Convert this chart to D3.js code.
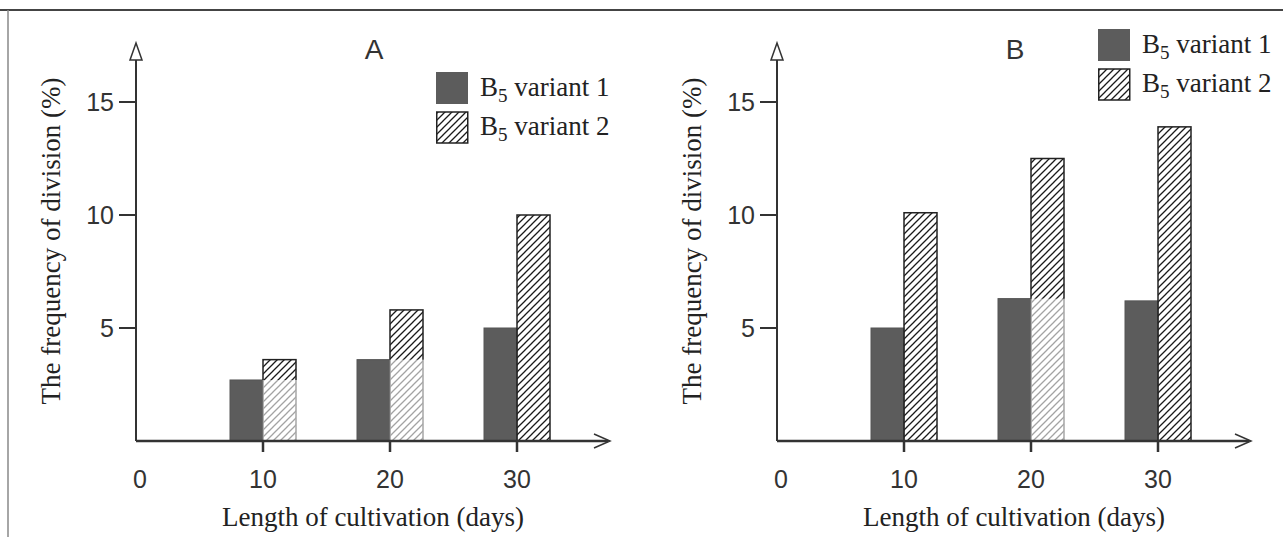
<!DOCTYPE html>
<html>
<head>
<meta charset="utf-8">
<script src="https://cdn.jsdelivr.net/npm/d3@7"></script>
<style>
  body { margin: 0; background: #fff; }
  svg { display: block; }
  .tick-num { font-family: "Liberation Sans", Arial, sans-serif; fill: #333; }
  .serif { font-family: "Liberation Serif", "Times New Roman", serif; fill: #222; }
</style>
</head>
<body>
<svg width="1283" height="537"></svg>
<script>
// data
const days = [10, 20, 30];
const xTickLabels = [0, 10, 20, 30];
const yTickLabels = [5, 10, 15];
const seriesLabels = ["variant 1", "variant 2"];
const panelTitles = ["A", "B"];
const variant1A = [2.7, 3.6, 5.0];
const variant2A = [3.6, 5.8, 10.0];
const variant1B = [5.0, 6.3, 6.2];
const variant2B = [10.1, 12.5, 13.9];
// groups where the scan washed out the lower hatching
const fadedA = [10, 20];
const fadedB = [20];

const svg = d3.select("svg");

const defs = svg.append("defs");
defs.append("pattern")
    .attr("id", "hatch")
    .attr("patternUnits", "userSpaceOnUse")
    .attr("width", 7)
    .attr("height", 7)
  .append("path")
    .attr("d", "M-1,8 L8,-1 M-2,2 L2,-2 M5,9 L9,5")
    .attr("stroke", "#1a1a1a")
    .attr("stroke-width", 1.3)
    .attr("stroke-linecap", "butt");

// scanned page frame
svg.append("line").attr("x1", 0).attr("x2", 1283).attr("y1", 10).attr("y2", 10)
    .attr("stroke", "#444").attr("stroke-width", 2);
svg.append("line").attr("x1", 8).attr("x2", 8).attr("y1", 10).attr("y2", 537)
    .attr("stroke", "#888").attr("stroke-width", 1.5);

const x = d3.scaleLinear().domain([0, 30]).range([136, 517]);
const y = d3.scaleLinear().domain([0, 15]).range([441, 102]);
const barW = 33;

const panels = [
    { title: panelTitles[0], v1: variant1A, v2: variant2A, faded: fadedA, dx: 0, legend: [436, 72] },
    { title: panelTitles[1], v1: variant1B, v2: variant2B, faded: fadedB, dx: 641, legend: [457, 29] }
];

panels.forEach(p => {
    const g = svg.append("g").attr("transform", `translate(${p.dx}, 0)`);

    // bars
    const rows = days.map((d, i) => ({ day: d, v1: p.v1[i], v2: p.v2[i] }));
    g.selectAll(".bar1").data(rows).enter().append("rect")
        .attr("x", d => x(d.day) - barW)
        .attr("y", d => y(d.v1))
        .attr("width", barW)
        .attr("height", d => y(0) - y(d.v1))
        .attr("fill", "#5c5c5c")
        .attr("stroke", "#545454")
        .attr("stroke-width", 1);
    g.selectAll(".bar2").data(rows).enter().append("rect")
        .attr("x", d => x(d.day))
        .attr("y", d => y(d.v2))
        .attr("width", barW)
        .attr("height", d => y(0) - y(d.v2))
        .attr("fill", "url(#hatch)")
        .attr("stroke", "#222")
        .attr("stroke-width", 1.5);
    g.selectAll(".fade").data(rows.filter(d => p.faded.includes(d.day))).enter().append("rect")
        .attr("x", d => x(d.day) - 0.5)
        .attr("y", d => y(d.v1))
        .attr("width", barW + 1.5)
        .attr("height", d => y(0) - y(d.v1))
        .attr("fill", "#fff")
        .attr("opacity", 0.6);

    // y axis with arrow
    g.append("line").attr("x1", x(0)).attr("x2", x(0)).attr("y1", y(0)).attr("y2", 46)
        .attr("stroke", "#333").attr("stroke-width", 2);
    g.append("path")
        .attr("d", `M${x(0) - 6},60 L${x(0)},43 L${x(0) + 6},60 Z`)
        .attr("fill", "#fff").attr("stroke", "#333").attr("stroke-width", 1.5);

    // x axis with arrow
    g.append("line").attr("x1", x(0)).attr("x2", 608).attr("y1", y(0)).attr("y2", y(0))
        .attr("stroke", "#333").attr("stroke-width", 2.5);
    g.append("path")
        .attr("d", `M594,${y(0) - 7} L610,${y(0)} L594,${y(0) + 7}`)
        .attr("fill", "none").attr("stroke", "#333").attr("stroke-width", 1.5);

    // y ticks
    g.selectAll(".ytick").data(yTickLabels).enter().append("line")
        .attr("x1", x(0) - 17).attr("x2", x(0))
        .attr("y1", d => y(d)).attr("y2", d => y(d))
        .attr("stroke", "#333").attr("stroke-width", 2);
    g.selectAll(".ylab").data(yTickLabels).enter().append("text")
        .attr("class", "tick-num")
        .attr("x", x(0) - 22)
        .attr("y", d => y(d))
        .attr("dy", "0.36em")
        .attr("text-anchor", "end")
        .attr("font-size", 25)
        .text(d => d);

    // x ticks
    g.selectAll(".xtick").data(days).enter().append("line")
        .attr("x1", d => x(d)).attr("x2", d => x(d))
        .attr("y1", y(0)).attr("y2", y(0) + 11)
        .attr("stroke", "#333").attr("stroke-width", 2.5);
    g.selectAll(".xlab").data(xTickLabels).enter().append("text")
        .attr("class", "tick-num")
        .attr("x", d => d === 0 ? x(d) + 4 : x(d))
        .attr("y", 479)
        .attr("dy", "0.36em")
        .attr("text-anchor", "middle")
        .attr("font-size", 25)
        .text(d => d);

    // titles
    g.append("text").attr("class", "tick-num")
        .attr("x", 374).attr("y", 49).attr("dy", "0.36em")
        .attr("text-anchor", "middle").attr("font-size", 28)
        .text(p.title);
    g.append("text").attr("class", "serif")
        .attr("x", 373).attr("y", 526)
        .attr("text-anchor", "middle").attr("font-size", 27)
        .text("Length of cultivation (days)");
    g.append("text").attr("class", "serif")
        .attr("transform", `translate(60, 241) rotate(-90)`)
        .attr("text-anchor", "middle").attr("font-size", 27)
        .text("The frequency of division (%)");

    // legend
    const [lx, ly] = p.legend;
    const leg = g.append("g").attr("transform", `translate(${lx}, ${ly})`);
    leg.append("rect").attr("x", 0).attr("y", 0).attr("width", 32).attr("height", 32)
        .attr("fill", "#5c5c5c");
    leg.append("rect").attr("x", 0.75).attr("y", 40).attr("width", 31).attr("height", 31)
        .attr("fill", "url(#hatch)").attr("stroke", "#222").attr("stroke-width", 1.5);
    seriesLabels.forEach((s, i) => {
        const t = leg.append("text").attr("class", "serif")
            .attr("x", 44).attr("y", 24 + i * 39).attr("font-size", 27);
        t.append("tspan").text("B");
        t.append("tspan").attr("font-size", 19).attr("dy", 6).text("5");
        t.append("tspan").attr("dy", -6).text(" " + s);
    });
});
</script>
</body>
</html>
